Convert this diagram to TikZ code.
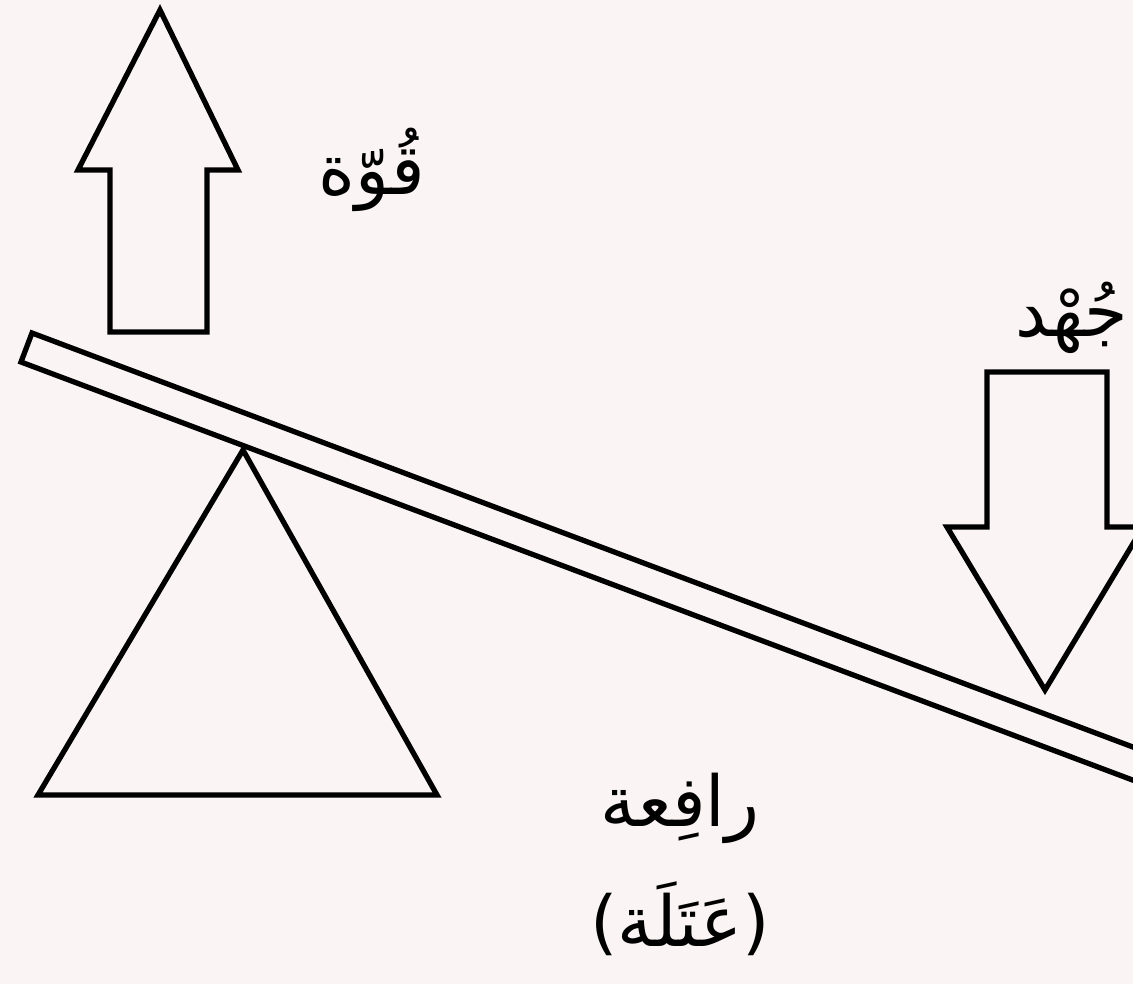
\documentclass[tikz,border=0pt]{standalone}
\usepackage{fontspec}
\usetikzlibrary{calc,positioning}
\TeXXeTstate=1
\newfontfamily\arabicfont[Script=Arabic]{DejaVu Sans}
\definecolor{paper}{RGB}{250,244,244}
\begin{document}
\begin{tikzpicture}[
        x=0.02cm,
        y=-0.02cm,
        part/.style={line width=3pt, draw=black, line join=miter},
        lbl/.style={font=\arabicfont\fontsize{40}{48}\selectfont, inner sep=0pt}
    ]
        \fill[paper] (0,0) rectangle (1133,984);
        \useasboundingbox (0,0) rectangle (1133,984);
        \clip (0,0) rectangle (1133,984);

        % lever and pivot
        \draw[part] (32,333) -- (1202,773) -- (1191,802) -- (21,362) -- cycle;
        \draw[part] (243,450) -- (437,795) -- (38,795) -- cycle;

        % load arrow (up)
        \draw[part] (110,332) -- (110,170) -- (78,170) -- (160,10)
            -- (238,170) -- (207,170) -- (207,332) -- cycle;

        % effort arrow (down)
        \draw[part] (987,372) -- (987,527) -- (947,527) -- (1045,690)
            -- (1143,527) -- (1107,527) -- (1107,372) -- cycle;

        \node[lbl] (load) at (372,170) {\beginR قُوّة\endR};
        \node[lbl] (effort) at (1072,318) {\beginR جُهْد\endR};
        \node[lbl] (lever) at (680,808) {\beginR رافِعة\endR};
        \node[lbl, below=0.75cm of lever] (lever2) {\beginR(عَتَلَة)\endR};
    \end{tikzpicture}
\end{document}
